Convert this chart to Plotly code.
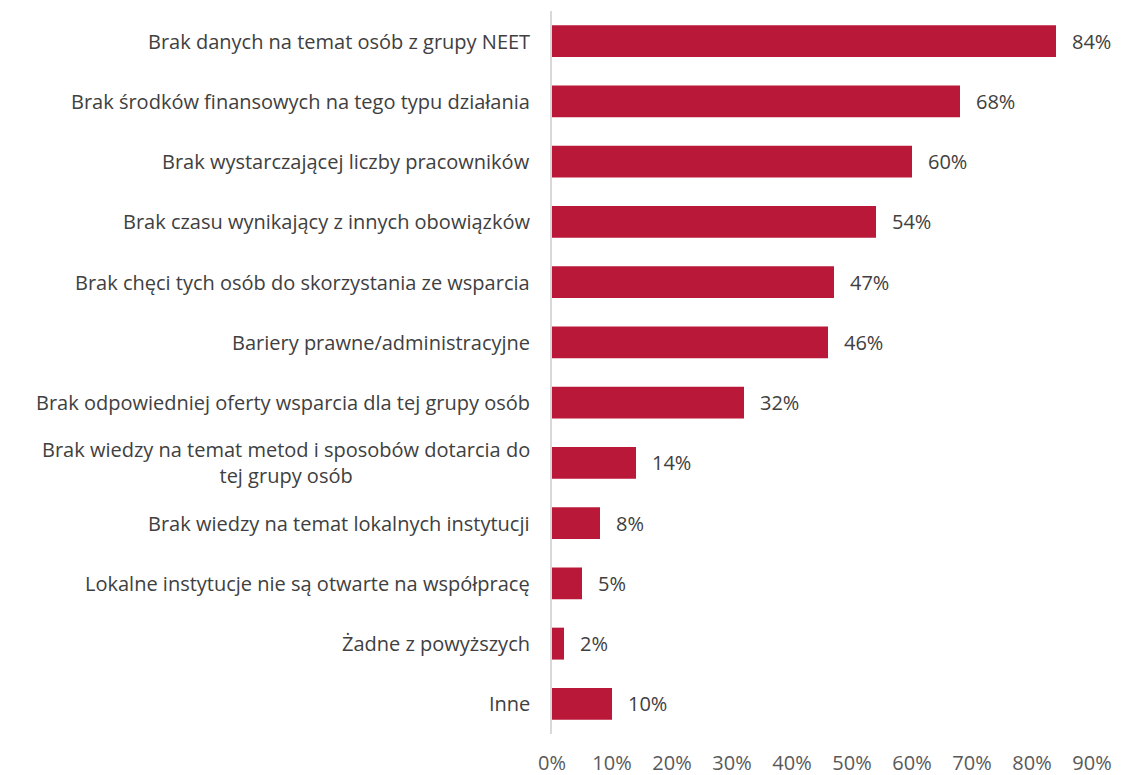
import plotly.graph_objects as go

categories = [
    "Brak danych na temat osób z grupy NEET",
    "Brak środków finansowych na tego typu działania",
    "Brak wystarczającej liczby pracowników",
    "Brak czasu wynikający z innych obowiązków",
    "Brak chęci tych osób do skorzystania ze wsparcia",
    "Bariery prawne/administracyjne",
    "Brak odpowiedniej oferty wsparcia dla tej grupy osób",
    "Brak wiedzy na temat metod i sposobów dotarcia do<br>tej grupy osób",
    "Brak wiedzy na temat lokalnych instytucji",
    "Lokalne instytucje nie są otwarte na współpracę",
    "Żadne z powyższych",
    "Inne",
]
values = [0.84, 0.68, 0.60, 0.54, 0.47, 0.46, 0.32, 0.14, 0.08, 0.05, 0.02, 0.10]
tick_vals = [i / 10 for i in range(10)]
tick_text = [f"{i*10}%" for i in range(10)]

FONT = "Open Sans"
FS = 20
BAR = "#B91839"

fig = go.Figure()
fig.add_trace(go.Bar(
    x=values, y=categories, orientation="h",
    marker=dict(color=BAR, line=dict(width=0)),
    hoverinfo="skip",
))

annotations = []
for c, v in zip(categories, values):
    annotations.append(dict(
        x=0, y=c, xref="paper", yref="y", text=c, showarrow=False,
        xanchor="right", yanchor="middle", align="center", xshift=-20,
        font=dict(family=FONT, size=FS, color="#404040"),
    ))
    annotations.append(dict(
        x=v, y=c, xref="x", yref="y", text=f"{round(v*100)}%", showarrow=False,
        xanchor="left", yanchor="middle", xshift=14,
        font=dict(family=FONT, size=FS, color="#404040"),
    ))

fig.update_layout(
    width=1129, height=775,
    margin=dict(l=552, r=37, t=11, b=41, autoexpand=False),
    plot_bgcolor="white", paper_bgcolor="white",
    bargap=0.47, showlegend=False,
    annotations=annotations,
    xaxis=dict(
        range=[0, 0.9], tickvals=tick_vals, ticktext=tick_text,
        showgrid=False, zeroline=False, showline=False, ticks="",
        tickfont=dict(family=FONT, size=FS, color="#595959"),
        ticklabelstandoff=15, automargin=False,
    ),
    yaxis=dict(
        autorange="reversed", showticklabels=False, ticks="",
        showgrid=False, zeroline=False, showline=True,
        linecolor="#D9D9D9", linewidth=2, automargin=False,
    ),
)

fig.write_html("out.html")
